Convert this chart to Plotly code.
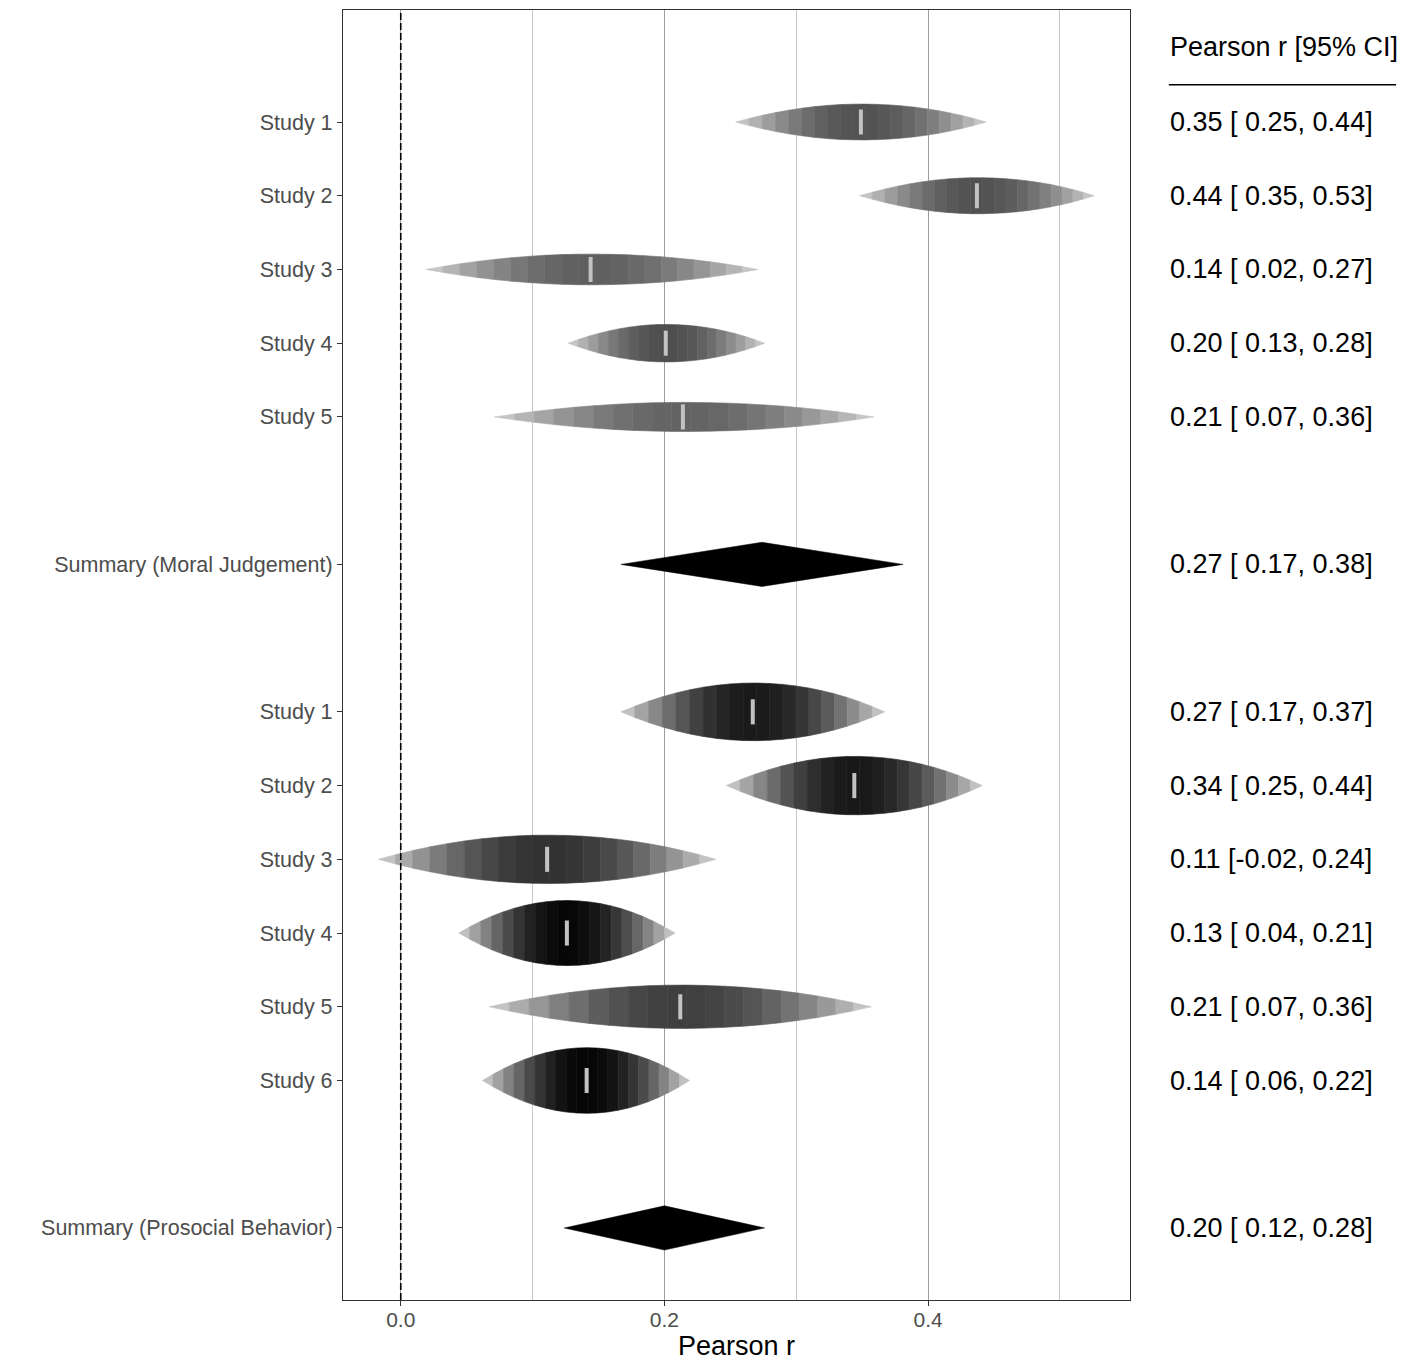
import numpy as np
import plotly.graph_objects as go

# ---------------- data ----------------
group_names = ["Moral Judgement", "Prosocial Behavior"]

mj_studies = ["Study 1", "Study 2", "Study 3", "Study 4", "Study 5"]
mj_est = [0.349, 0.437, 0.144, 0.201, 0.214]
mj_lower = [0.254, 0.348, 0.019, 0.127, 0.071]
mj_upper = [0.444, 0.526, 0.271, 0.276, 0.359]
mj_weight = [24.3, 24.4, 20.8, 25.4, 19.7]
mj_sum_est, mj_sum_lower, mj_sum_upper = 0.274, 0.167, 0.381

pb_studies = ["Study 1", "Study 2", "Study 3", "Study 4", "Study 5", "Study 6"]
pb_est = [0.267, 0.344, 0.111, 0.126, 0.212, 0.141]
pb_lower = [0.167, 0.247, -0.017, 0.044, 0.067, 0.062]
pb_upper = [0.367, 0.441, 0.239, 0.208, 0.357, 0.219]
pb_weight = [39.1, 39.6, 32.8, 44.1, 29.4, 44.5]
pb_sum_est, pb_sum_lower, pb_sum_upper = 0.200, 0.124, 0.276

x_tick_vals = [0.0, 0.2, 0.4]
x_tick_text = ["0.0", "0.2", "0.4"]
x_minor_vals = [0.1, 0.3, 0.5]
header_text = "Pearson r [95% CI]"
x_title = "Pearson r"

groups = [
    dict(name=group_names[0], studies=mj_studies, est=mj_est, lo=mj_lower, hi=mj_upper,
         w=mj_weight, sum=(mj_sum_est, mj_sum_lower, mj_sum_upper)),
    dict(name=group_names[1], studies=pb_studies, est=pb_est, lo=pb_lower, hi=pb_upper,
         w=pb_weight, sum=(pb_sum_est, pb_sum_lower, pb_sum_upper)),
]

# ---------------- row layout ----------------
rows = []  # (kind, label, est, lo, hi, weight, y)
pos = 0
for g in groups:
    for s, e, l, h, w in zip(g["studies"], g["est"], g["lo"], g["hi"], g["w"]):
        rows.append(["study", s, e, l, h, w, pos])
        pos -= 1
    pos -= 1
    e, l, h = g["sum"]
    rows.append(["summary", "Summary (%s)" % g["name"], e, l, h, None, pos])
    pos -= 2
shift = -rows[-1][6]
for r in rows:
    r[6] += shift
y_top = max(r[6] for r in rows)
y_range = [-0.977, y_top + 1.519]

fig = go.Figure()


def loglik_shape(z, ze, zl, zu):
    # relative log-likelihood (parabola in Fisher-z), zero at the CI bounds
    u = np.where(z < ze, (z - ze) / (ze - zl), (z - ze) / (zu - ze))
    return np.clip(1 - u ** 2, 0, None)


N_SEG = 20
D_EDGE = 0.2
for kind, label, e, l, h, w, y0 in rows:
    if kind == "study":
        half = w / 100.0
        d_peak = min(0.98, 0.317 + 1.49 * half)
        ze, zl, zu = np.arctanh([e, l, h])
        edges = np.linspace(zl, zu, N_SEG + 1)
        for i in range(N_SEG):
            zz = np.linspace(edges[i], edges[i + 1], 8)
            if edges[i] < ze < edges[i + 1]:
                zz = np.sort(np.append(zz, ze))
            fv = loglik_shape(zz, ze, zl, zu)
            mid = float(loglik_shape(np.array([(edges[i] + edges[i + 1]) / 2]), ze, zl, zu)[0])
            d = D_EDGE + (d_peak - D_EDGE) * mid ** 1.2
            gv = int(round(255 * (1 - d)))
            col = "rgb(%d,%d,%d)" % (gv, gv, gv)
            xs = np.tanh(zz)
            px = np.concatenate([xs, xs[::-1], xs[:1]])
            py = np.concatenate([y0 + half * fv, (y0 - half * fv)[::-1], [y0 + half * fv[0]]])
            fig.add_trace(go.Scatter(x=px, y=py, mode="lines", fill="toself",
                                     fillcolor=col, line=dict(color=col, width=0.6),
                                     hoverinfo="skip", showlegend=False))
        fig.add_trace(go.Scatter(x=[e, e], y=[y0 - 0.17, y0 + 0.17], mode="lines",
                                 line=dict(color="#c2c2c2", width=4),
                                 hoverinfo="skip", showlegend=False))
    else:
        fig.add_trace(go.Scatter(x=[l, e, h, e, l], y=[y0, y0 + 0.30, y0, y0 - 0.30, y0],
                                 mode="lines", fill="toself", fillcolor="black",
                                 line=dict(color="black", width=0.5),
                                 hoverinfo="skip", showlegend=False))

# ---------------- right-hand text column ----------------
TX = 1.0483
annotations = []
for kind, label, e, l, h, w, y0 in rows:
    txt = "%.2f [%5.2f, %.2f]" % (e, l, h)
    txt = txt.replace(" ", "\u00a0")
    annotations.append(dict(x=TX, xref="paper", y=y0, yref="y", text=txt,
                            showarrow=False, xanchor="left", yanchor="middle",
                            font=dict(size=27, color="black")))
annotations.append(dict(x=TX, xref="paper", y=y_top + 1.02, yref="y", text=header_text,
                        showarrow=False, xanchor="left", yanchor="middle",
                        font=dict(size=27, color="black")))

shapes = [
    dict(type="line", xref="x", yref="paper", x0=0, x1=0, y0=0, y1=1,
         line=dict(color="black", width=1.6, dash="7px,3px"), layer="above"),
    dict(type="line", xref="paper", yref="y", x0=TX + 0.001, x1=1.338,
         y0=y_top + 0.505, y1=y_top + 0.505, line=dict(color="black", width=1.6)),
]

fig.update_layout(
    width=1409, height=1364,
    margin=dict(l=335, r=287, t=2, b=72, autoexpand=False),
    plot_bgcolor="white", paper_bgcolor="white", showlegend=False,
    font=dict(family="Liberation Sans, Arial, sans-serif", color="#4d4d4d"),
    annotations=annotations, shapes=shapes,
    xaxis=dict(range=[-0.0438, 0.5531], tickvals=x_tick_vals, ticktext=x_tick_text,
               showgrid=True, gridcolor="#9c9c9c", gridwidth=1.4,
               minor=dict(tickvals=x_minor_vals, showgrid=True, gridcolor="#c8c8c8",
                          gridwidth=1.1, ticks=""),
               ticks="outside", ticklen=5, tickwidth=1.2, tickcolor="#333333",
               tickfont=dict(size=21, color="#4d4d4d"), ticklabelstandoff=-4,
               showline=True, mirror=True, linecolor="#333333", linewidth=1.2,
               zeroline=False, automargin=False,
               title=dict(text=x_title, font=dict(size=27, color="black"), standoff=4)),
    yaxis=dict(range=y_range, tickvals=[r[6] for r in rows], ticktext=[r[1] for r in rows],
               showgrid=False, ticks="outside", ticklen=5, tickwidth=1.2, tickcolor="#333333",
               tickfont=dict(size=21.5, color="#4d4d4d"),
               showline=True, mirror=True, linecolor="#333333", linewidth=1.2,
               zeroline=False, automargin=False),
)

fig.write_html("out.html")
